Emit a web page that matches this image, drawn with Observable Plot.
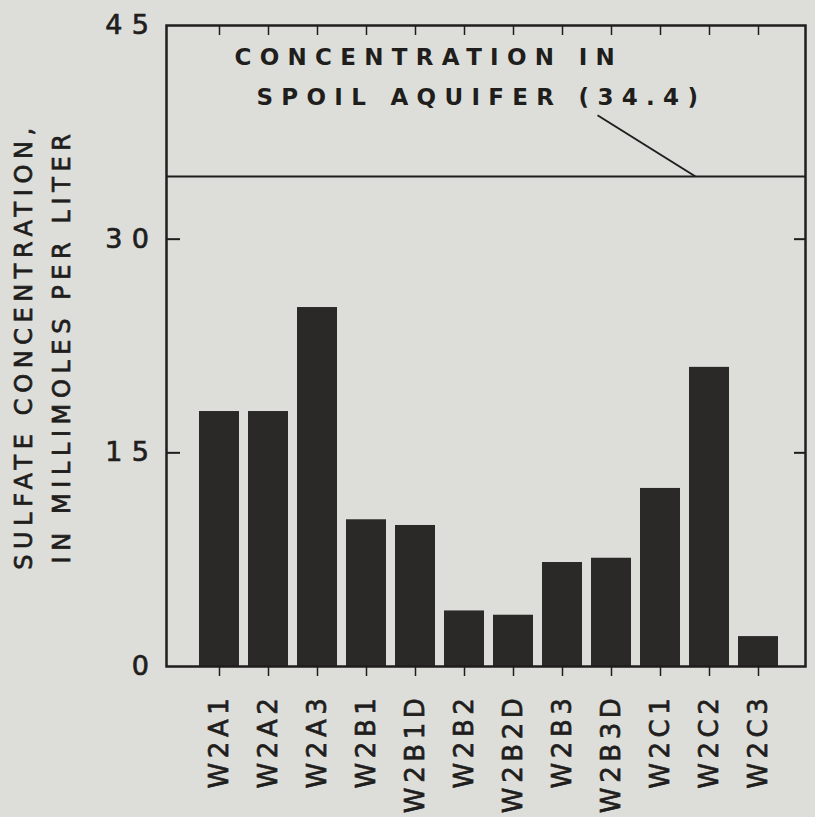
<!DOCTYPE html>
<html>
<head>
<meta charset="utf-8">
<script src="https://cdn.jsdelivr.net/npm/d3@7"></script>
<script src="https://cdn.jsdelivr.net/npm/@observablehq/plot@0.6"></script>
<style>
  html, body { margin: 0; padding: 0; background: #dddeda; }
  #chart svg { display: block; overflow: visible; }
</style>
</head>
<body>
<div id="chart"></div>
<script>
// Observation wells along the bottom axis
const wells = ["W2A1", "W2A2", "W2A3", "W2B1", "W2B1D", "W2B2", "W2B2D", "W2B3", "W2B3D", "W2C1", "W2C2", "W2C3"];
// Sulfate concentration in each well, millimoles per liter
const sulfate = [17.9, 17.9, 25.2, 10.3, 9.9, 3.9, 3.6, 7.3, 7.6, 12.5, 21.0, 2.1];
// Reference concentration in the spoil aquifer
const spoilAquifer = 34.4;
const yTicks = [0, 15, 30, 45];
const innerTicks = [15, 30];
// Annotation text lines and their vertical positions (data units)
const noteLines = ["CONCENTRATION IN", "SPOIL AQUIFER (34.4)"];
const noteY = [42.75, 39.95];
const titleLines = ["SULFATE CONCENTRATION,", "IN MILLIMOLES PER LITER"];

const data = wells.map((w, i) => ({well: w, value: sulfate[i]}));

const W = 815, H = 817;
const mL = 166, mR = 10, mT = 25, mB = 151;
const ink = "#1f1e1d";
const blank = () => "";

const chart = Plot.plot({
  width: W,
  height: H,
  marginLeft: mL,
  marginRight: mR,
  marginTop: mT,
  marginBottom: mB,
  style: {background: "#dddeda", fontFamily: "DejaVu Sans, sans-serif", color: ink},
  x: {type: "band", domain: wells, range: [172, 805], paddingInner: 0.18, paddingOuter: 0.5},
  y: {domain: [0, 45]},
  marks: [
    Plot.barY(data, {x: "well", y: "value", fill: "#2b2927"}),
    // spoil-aquifer reference level
    Plot.ruleY([spoilAquifer], {stroke: ink, strokeWidth: 2}),
    // inward ticks on the left, right and top edges
    Plot.axisY({anchor: "left", ticks: innerTicks, tickSize: 14, dx: 14, tickFormat: blank, label: null, stroke: ink, strokeWidth: 2}),
    Plot.axisY({anchor: "right", ticks: innerTicks, tickSize: 12, dx: -12, tickFormat: blank, label: null, stroke: ink, strokeWidth: 2}),
    Plot.axisX({anchor: "top", tickSize: 9, dy: 9, tickFormat: blank, label: null, stroke: ink, strokeWidth: 1.5}),
    Plot.frame({stroke: ink, strokeWidth: 2.5}),
    Plot.axisX({anchor: "bottom", tickSize: 10, tickPadding: 17, tickRotate: -90, fontSize: 26, label: null, stroke: ink, strokeWidth: 1.5, fill: ink}),
    Plot.axisY({anchor: "left", ticks: yTicks, tickSize: 0, tickPadding: 8, fontSize: 27, label: null, fill: ink}),
    // annotation and its leader line
    Plot.text([noteLines[0]], {x: () => wells[0], y: () => noteY[0], text: d => d, dx: 15, textAnchor: "start", fontSize: 23, fontWeight: "bold", fill: ink}),
    Plot.text([noteLines[1]], {x: () => wells[0], y: () => noteY[1], text: d => d, dx: 37, textAnchor: "start", fontSize: 23, fontWeight: "bold", fill: ink}),
    Plot.link([{x1: "W2B3D", x2: "W2C2", y1: 38.7, y2: spoilAquifer}], {x1: "x1", x2: "x2", y1: "y1", y2: "y2", dx: -14, stroke: ink, strokeWidth: 2}),
    // y-axis title, two lines
    Plot.text([titleLines[0]], {frameAnchor: "left", textAnchor: "middle", text: d => d, rotate: -90, dx: -142, fontSize: 24, fill: ink}),
    Plot.text([titleLines[1]], {frameAnchor: "left", textAnchor: "middle", text: d => d, rotate: -90, dx: -104, fontSize: 24, fill: ink})
  ]
});

const svg = d3.select(chart);
svg.selectAll('g[aria-label="x-axis tick label"] text').style("letter-spacing", "4.6px");
svg.selectAll('g[aria-label="y-axis tick label"] text').style("letter-spacing", "9.5px");
svg.selectAll("text").filter(function() { return noteLines.includes(this.textContent); }).style("letter-spacing", "8.3px");
svg.selectAll("text").filter(function() { return titleLines.includes(this.textContent); }).style("letter-spacing", "5.6px");
// heavier pen weight for the regular lettering
svg.selectAll("text").filter(function() { return !noteLines.includes(this.textContent); })
  .style("stroke", ink).style("stroke-width", "0.7px");

document.getElementById("chart").append(chart);
</script>
</body>
</html>
